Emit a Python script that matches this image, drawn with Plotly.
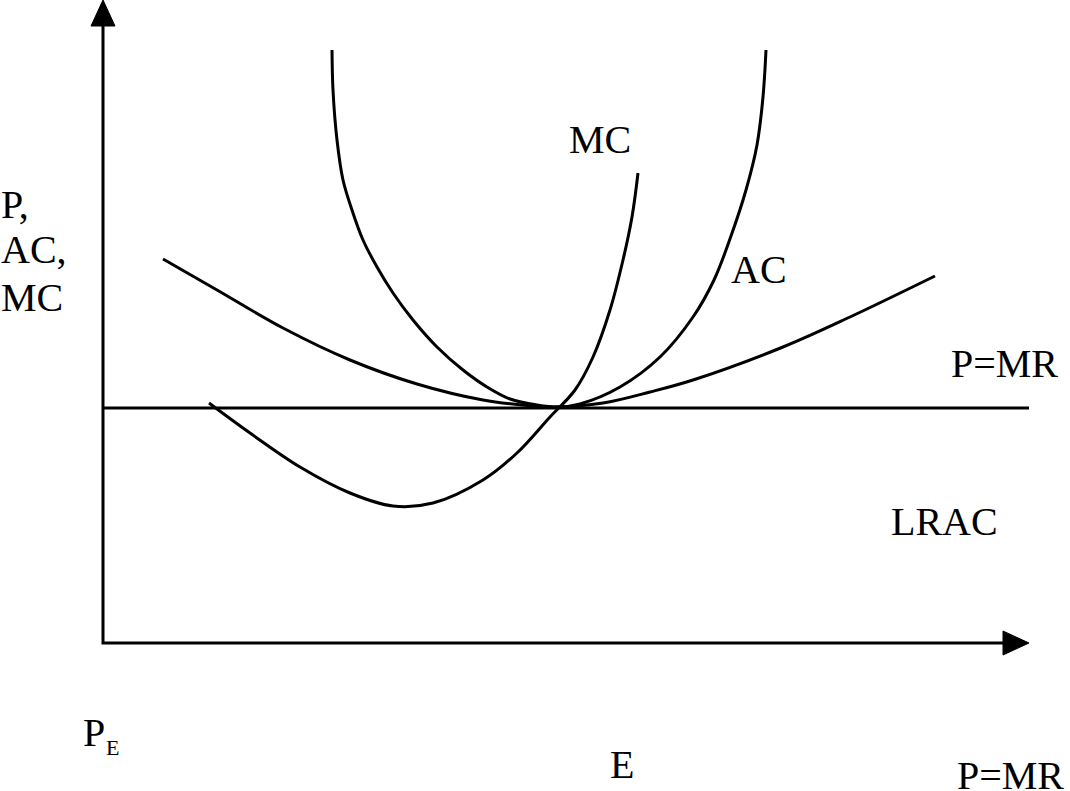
import plotly.graph_objects as go

# Curves (pixel-like data space, y grows downward)
ac_x = [332, 333, 337, 343, 353, 363, 377, 393, 413, 437, 463, 487, 510, 537, 560, 580, 620, 660, 693, 714, 731, 746, 757, 763, 766]
ac_y = [50, 90, 140, 180, 213, 240, 267, 293, 320, 347, 370, 387, 399, 405, 407, 404, 387, 357, 317, 280, 236, 190, 145, 97, 50]

mc_x = [209, 250, 300, 350, 393, 433, 483, 517, 550, 575, 593, 610, 623, 632, 638]
mc_y = [403, 433, 467, 493, 506, 503, 480, 453, 417, 390, 357, 310, 260, 217, 173]

lrac_x = [163, 217, 283, 350, 417, 483, 533, 555, 603, 650, 693, 783, 850, 935]
lrac_y = [259, 290, 328, 360, 384, 400, 406, 407, 403, 392, 380, 347, 317, 276]

price_x = [103, 1029]
price_y = [408, 408]

# axes: origin and arrow tips
origin = (103, 643)
y_tip = (103, 0)
x_tip = (1029, 643)
head_len = 26
head_half = 12

# labels: text, x (left edge), y (cap centre), font size
labels = [
    ("MC", 568, 139, 40),
    ("AC", 730, 269, 40),
    ("P=MR", 950, 363, 40),
    ("LRAC", 890, 521, 40),
    ("P,", 0, 204, 40),
    ("AC,", 0, 249, 40),
    ("MC", 0, 297, 40),
    ("P", 82, 732, 40),
    ("E", 105, 747, 22),
    ("E", 609, 764, 40),
    ("P=MR", 956, 775, 40),
]

serif = "Liberation Serif, Times New Roman, serif"
line = dict(color="black", width=3)
fig = go.Figure()

for xs, ys in [(ac_x, ac_y), (mc_x, mc_y), (lrac_x, lrac_y)]:
    fig.add_trace(go.Scatter(x=xs, y=ys, mode="lines", line=dict(color="black", width=3, shape="spline"),
                             showlegend=False, hoverinfo="skip"))

fig.add_trace(go.Scatter(x=price_x, y=price_y, mode="lines", line=line, showlegend=False, hoverinfo="skip"))

# axis lines
fig.add_trace(go.Scatter(x=[y_tip[0], origin[0], x_tip[0] - head_len],
                         y=[y_tip[1] + head_len, origin[1], x_tip[1]],
                         mode="lines", line=line, showlegend=False, hoverinfo="skip"))

# arrowheads
fig.add_trace(go.Scatter(
    x=[y_tip[0], y_tip[0] - head_half, y_tip[0] + head_half, y_tip[0]],
    y=[y_tip[1], y_tip[1] + head_len, y_tip[1] + head_len, y_tip[1]],
    mode="lines", fill="toself", fillcolor="black", line=dict(color="black", width=1),
    showlegend=False, hoverinfo="skip"))
fig.add_trace(go.Scatter(
    x=[x_tip[0], x_tip[0] - head_len, x_tip[0] - head_len, x_tip[0]],
    y=[x_tip[1], x_tip[1] - head_half, x_tip[1] + head_half, x_tip[1]],
    mode="lines", fill="toself", fillcolor="black", line=dict(color="black", width=1),
    showlegend=False, hoverinfo="skip"))

for text, x, y, size in labels:
    fig.add_annotation(x=x, y=y, text=text, showarrow=False, xanchor="left", yanchor="middle",
                       borderpad=0, font=dict(family=serif, size=size, color="black"))

fig.update_layout(
    width=1070, height=791,
    margin=dict(l=0, r=0, t=0, b=0),
    plot_bgcolor="white", paper_bgcolor="white",
    font=dict(family=serif),
    xaxis=dict(range=[0, 1070], visible=False, fixedrange=True),
    yaxis=dict(range=[791, 0], visible=False, fixedrange=True),
)

# page body margin would push the figure 8px off the window
fig.write_html("out.html", config=dict(displayModeBar=False),
               post_script="document.body.style.margin='0';")
